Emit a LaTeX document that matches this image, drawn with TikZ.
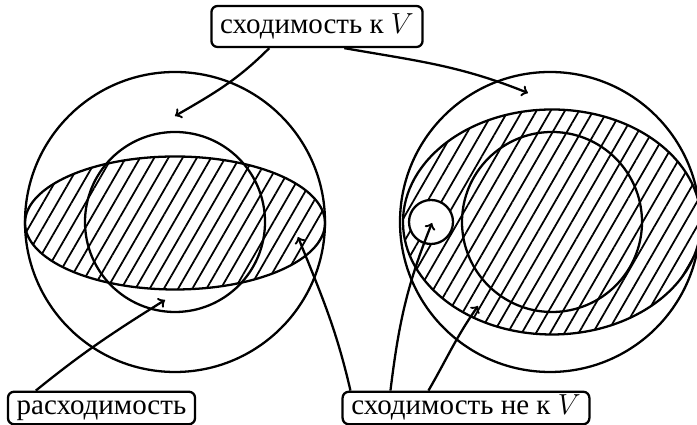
\documentclass[tikz,border=0pt]{standalone}
\usepackage{fix-cm}
\usepackage{fontspec}
\setmainfont{Liberation Serif}
\usetikzlibrary{patterns.meta}

\begin{document}
\begin{tikzpicture}[line width=1.3pt,
  lbl/.style={draw, rounded corners=3.5pt, inner xsep=5pt, inner ysep=2pt,
    text height=11pt, text depth=3.5pt, font=\fontsize{16.5}{19}\selectfont},
  hatch/.style={pattern={Lines[angle=60,distance=7pt,line width=1pt]}}]
\useasboundingbox (0,0) rectangle (13.94,8.5);
\draw (3.5,4.06) circle (3);
\draw (3.5,4.06) circle (1.8);
\draw[hatch] (3.5,4.04) ellipse (3 and 1.33);
\draw (11,4.06) circle (3);
\draw[hatch] (11.04,4.06) ellipse (2.98 and 2.25);
\draw (11.04,4.06) circle (1.8);
\draw[fill=white] (8.62,4.06) circle (0.44);
\node[lbl, minimum height=0.82cm] (conv) at (6.34,7.97) {сходимость к $V$};
\node[lbl] (div) at (2.03,0.34) {расходимость};
\node[lbl] (other) at (9.32,0.34) {сходимость не к $V$};
\coordinate (inL) at (3.5,6.18);
\coordinate (inR) at (10.56,6.64);
\coordinate (divL) at (3.3,2.5);
\coordinate (ellL) at (5.96,3.76);
\coordinate (small) at (8.64,4.04);
\coordinate (ellR) at (9.56,2.38);
\draw[->] ([xshift=1.18cm]conv.south west) to[out=-135,in=30] (inL);
\draw[->] ([xshift=2.68cm]conv.south west) to[out=-10,in=158] (inR);
\draw[->] ([xshift=0.58cm]div.north west) to[out=39,in=-148] (divL);
\draw[->] ([xshift=0.18cm]other.north west) to[out=103,in=-68] (ellL);
\draw[->] ([xshift=0.98cm]other.north west) to[out=83,in=-112] (small);
\draw[->] ([xshift=1.74cm]other.north west) to[out=60,in=-125] (ellR);
\end{tikzpicture}
\end{document}
